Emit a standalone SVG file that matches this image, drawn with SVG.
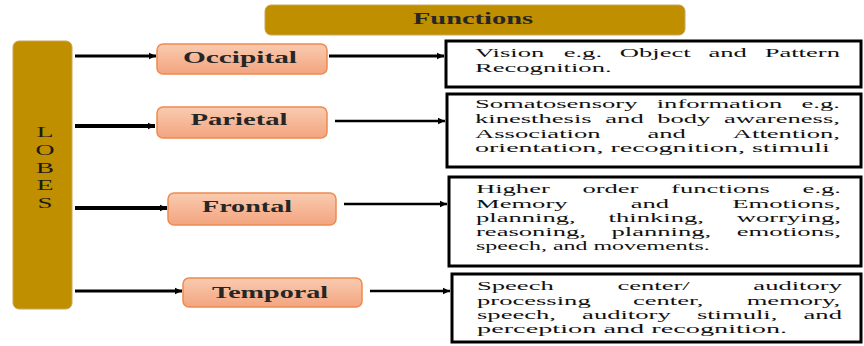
<svg xmlns="http://www.w3.org/2000/svg" width="864" height="346" viewBox="0 0 864 346">
<defs>
<linearGradient id="ng" x1="0" y1="0" x2="0" y2="1">
<stop offset="0" stop-color="#F9CBB0"/>
<stop offset="1" stop-color="#F3A47F"/>
</linearGradient>
<marker id="ah" markerUnits="userSpaceOnUse" markerWidth="8" markerHeight="8" refX="7" refY="4" orient="auto">
<path d="M0,0.8 L7,4 L0,7.2 Z" fill="#000"/>
</marker>
<style>
.gold{fill:#BF8F00;stroke:#C9A65A;stroke-width:1}
.node{fill:url(#ng);stroke:#EE8A4F;stroke-width:1.5}
.box{fill:#fff;stroke:#000;stroke-width:3}
.t{font-family:"Liberation Serif","Times New Roman",serif;fill:#1a1a1a}
.nt{font-family:"Liberation Serif","Times New Roman",serif;font-size:16px;font-weight:bold;fill:#262626;text-anchor:middle}
.bt{font-family:"Liberation Serif","Times New Roman",serif;font-size:13.5px;fill:#111}
.ln{stroke:#000;fill:none}
</style>
</defs>

<g id="functions">
<rect class="gold" x="265" y="5" width="420" height="30" rx="6"/>
<text class="nt" x="473" y="24" font-size="15" textLength="120" lengthAdjust="spacingAndGlyphs">Functions</text>
</g>

<g id="lobes">
<rect class="gold" x="13" y="41" width="59" height="268" rx="6"/>
<g class="t" font-size="15.5" text-anchor="middle">
<text x="45" y="137" textLength="17" lengthAdjust="spacingAndGlyphs">L</text>
<text x="45" y="155" textLength="19" lengthAdjust="spacingAndGlyphs">O</text>
<text x="45" y="172.5" textLength="18" lengthAdjust="spacingAndGlyphs">B</text>
<text x="45" y="190" textLength="17" lengthAdjust="spacingAndGlyphs">E</text>
<text x="45" y="208" textLength="15" lengthAdjust="spacingAndGlyphs">S</text>
</g>
</g>

<g id="occipital">
<rect class="node" x="157" y="44" width="170" height="30" rx="6"/>
<text class="nt" x="240" y="63" textLength="114" lengthAdjust="spacingAndGlyphs">Occipital</text>
</g>
<g id="parietal">
<rect class="node" x="157" y="107" width="170" height="31" rx="6"/>
<text class="nt" x="239" y="125" textLength="97" lengthAdjust="spacingAndGlyphs">Parietal</text>
</g>
<g id="frontal">
<rect class="node" x="168" y="193" width="168" height="32" rx="6"/>
<text class="nt" x="247" y="212" textLength="90" lengthAdjust="spacingAndGlyphs">Frontal</text>
</g>
<g id="temporal">
<rect class="node" x="183" y="278" width="179" height="29" rx="6"/>
<text class="nt" x="270" y="298" textLength="116" lengthAdjust="spacingAndGlyphs">Temporal</text>
</g>

<g id="box-occipital">
<rect class="box" x="446" y="41" width="415" height="46"/>
<text class="bt" transform="translate(475,57) scale(1.9704,1)"><tspan x="0">Vision</tspan><tspan x="45.01">e.g.</tspan><tspan x="73.51">Object</tspan><tspan x="118.5">and</tspan><tspan x="147">Pattern</tspan></text>
<text class="bt" transform="translate(475,71.5) scale(1.9704,1)">Recognition.</text>
</g>
<g id="box-parietal">
<rect class="box" x="447" y="94" width="414" height="73"/>
<text class="bt" transform="translate(475,108) scale(1.9704,1)"><tspan x="0">Somatosensory</tspan><tspan x="92.24">information</tspan><tspan x="165.74">e.g.</tspan></text>
<text class="bt" transform="translate(475,123) scale(1.9704,1)"><tspan x="0">kinesthesis</tspan><tspan x="66.13">and</tspan><tspan x="92.5">body</tspan><tspan x="126.38">awareness,</tspan></text>
<text class="bt" transform="translate(475,137.5) scale(1.9704,1)"><tspan x="0">Association</tspan><tspan x="87.56">and</tspan><tspan x="130.86">Attention,</tspan></text>
<text class="bt" transform="translate(475,152) scale(1.9704,1)" textLength="180.1" lengthAdjust="spacingAndGlyphs">orientation, recognition, stimuli</text>
</g>
<g id="box-frontal">
<rect class="box" x="449" y="177" width="412" height="89"/>
<text class="bt" transform="translate(476,193) scale(1.9704,1)"><tspan x="0">Higher</tspan><tspan x="54">order</tspan><tspan x="98.99">functions</tspan><tspan x="165.75">e.g.</tspan></text>
<text class="bt" transform="translate(476,207.5) scale(1.9704,1)"><tspan x="0">Memory</tspan><tspan x="78.55">and</tspan><tspan x="130.1">Emotions,</tspan></text>
<text class="bt" transform="translate(476,221.5) scale(1.9704,1)"><tspan x="0">planning,</tspan><tspan x="67.31">thinking,</tspan><tspan x="132.38">worrying,</tspan></text>
<text class="bt" transform="translate(476,235.5) scale(1.9704,1)"><tspan x="0">reasoning,</tspan><tspan x="68.8">planning,</tspan><tspan x="132.37">emotions,</tspan></text>
<text class="bt" transform="translate(476,250) scale(1.9704,1)" textLength="118.6" lengthAdjust="spacingAndGlyphs">speech, and movements.</text>
</g>
<g id="box-temporal">
<rect class="box" x="452" y="274" width="409" height="68"/>
<text class="bt" transform="translate(477,290) scale(1.9704,1)"><tspan x="0">Speech</tspan><tspan x="71.25">center/</tspan><tspan x="140.25">auditory</tspan></text>
<text class="bt" transform="translate(477,304.5) scale(1.9704,1)"><tspan x="0">processing</tspan><tspan x="79.13">center,</tspan><tspan x="136.87">memory,</tspan></text>
<text class="bt" transform="translate(477,319) scale(1.9704,1)"><tspan x="0">speech,</tspan><tspan x="53.35">auditory</tspan><tspan x="111.6">stimuli,</tspan><tspan x="165.74">and</tspan></text>
<text class="bt" transform="translate(477,333) scale(1.9704,1)" textLength="157.4" lengthAdjust="spacingAndGlyphs">perception and recognition.</text>
</g>

<g id="connectors">
<line class="ln" x1="75" y1="56" x2="156" y2="56" stroke-width="3" marker-end="url(#ah)"/>
<line class="ln" x1="75" y1="126" x2="155" y2="126" stroke-width="4" marker-end="url(#ah)"/>
<line class="ln" x1="75" y1="208" x2="167" y2="208" stroke-width="4" marker-end="url(#ah)"/>
<line class="ln" x1="75" y1="291" x2="182" y2="291" stroke-width="3" marker-end="url(#ah)"/>
<line class="ln" x1="329" y1="56" x2="444" y2="56" stroke-width="3" marker-end="url(#ah)"/>
<line class="ln" x1="335" y1="121" x2="445" y2="121" stroke-width="2.5" marker-end="url(#ah)"/>
<line class="ln" x1="344" y1="204" x2="447" y2="204" stroke-width="2.5" marker-end="url(#ah)"/>
<line class="ln" x1="370" y1="291" x2="450" y2="291" stroke-width="2.5" marker-end="url(#ah)"/>
</g>
</svg>
